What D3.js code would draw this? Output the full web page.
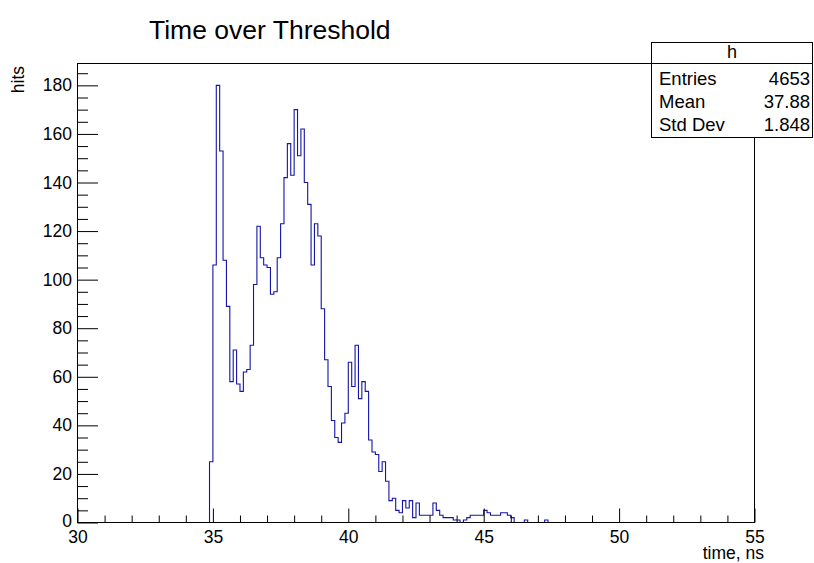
<!DOCTYPE html>
<html>
<head>
<meta charset="utf-8">
<script src="https://cdn.jsdelivr.net/npm/d3@7"></script>
<style>
  body { margin: 0; background: #fff; }
  text { font-family: "Liberation Sans", Arial, sans-serif; }
</style>
</head>
<body>
<div id="chart"></div>
<script>
// histogram "h": 200 bins of 0.125 ns between 30 and 55
const xRange = [30, 55];
const binWidth = 0.125;
const firstBinLow = 34.875; // first filled bin, counts below start here
const counts = [
  25, 106, 180, 153, 108, 89, 58, 71, 57, 54,
  62, 63, 73, 98, 122, 109, 106, 105, 94, 95,
  109, 123, 142, 156, 143, 170, 151, 162, 140, 131,
  106, 123, 118, 88, 67, 56, 42, 35, 33, 41,
  45, 66, 56, 73, 51, 58, 54, 34, 29, 28,
  21, 25, 17, 9, 10, 5, 4, 9, 6, 9,
  2, 8, 3, 3, 3, 3, 8, 5, 3, 2,
  2, 2, 1, 1, 0, 1, 2, 3, 3, 3,
  3, 5, 4, 3, 3, 3, 4, 4, 3, 2,
  0, 0, 0, 1, 0, 0, 0, 0, 0, 1
];
const xMajorTicks = [30, 35, 40, 45, 50, 55];
const yMajorTicks = [0, 20, 40, 60, 80, 100, 120, 140, 160, 180];
const statsRows = [["Entries", "4653"], ["Mean", "37.88"], ["Std Dev", "1.848"]];

const width = 814, height = 563;
const frame = { left: 77.5, right: 754.5, top: 63.5, bottom: 522.5 };
const yMax = 189;

const svg = d3.select("#chart").append("svg")
  .attr("width", width)
  .attr("height", height);

const x = d3.scaleLinear().domain(xRange).range([frame.left, frame.right]);
const y = d3.scaleLinear().domain([0, yMax]).range([frame.bottom, frame.top]);

// full bin list, empty outside the filled part
const nBins = Math.round((xRange[1] - xRange[0]) / binWidth);
const offset = Math.round((firstBinLow - xRange[0]) / binWidth);
const bins = d3.range(nBins).map(i => ({
  low: xRange[0] + i * binWidth,
  value: i >= offset && i - offset < counts.length ? counts[i - offset] : 0
}));
const pts = bins.map(b => [b.low, b.value]);
pts.push([xRange[1], bins[nBins - 1].value]);

const line = d3.line()
  .x(d => x(d[0]))
  .y(d => y(d[1]))
  .curve(d3.curveStepAfter);

svg.append("path")
  .datum(pts)
  .attr("d", line)
  .attr("fill", "none")
  .attr("stroke", "#1414a8")
  .attr("stroke-width", 1.1);

// frame
svg.append("rect")
  .attr("x", frame.left)
  .attr("y", frame.top)
  .attr("width", frame.right - frame.left)
  .attr("height", frame.bottom - frame.top)
  .attr("fill", "none")
  .attr("stroke", "#000");

// x axis, ticks pointing inside
const xMinor = d3.range(31, 55).filter(v => v % 5 !== 0);
svg.append("g")
  .attr("transform", `translate(0,${frame.bottom})`)
  .call(d3.axisBottom(x).tickValues(xMinor).tickSizeInner(-7).tickSizeOuter(0).tickFormat(""))
  .call(g => g.select(".domain").remove());
svg.append("g")
  .attr("class", "x axis")
  .attr("transform", `translate(0,${frame.bottom})`)
  .call(d3.axisBottom(x).tickValues(xMajorTicks).tickSizeInner(-14).tickSizeOuter(0).tickPadding(8).tickFormat(d3.format("d")))
  .call(g => g.select(".domain").remove())
  .selectAll("text")
  .style("font-size", "17.5px")
  .style("font-family", "Liberation Sans, Arial, sans-serif")
  .attr("fill", "#000");

// y axis
const yMinor = d3.range(5, yMax, 5).filter(v => v % 20 !== 0);
svg.append("g")
  .attr("transform", `translate(${frame.left},0)`)
  .call(d3.axisLeft(y).tickValues(yMinor).tickSizeInner(-10.5).tickSizeOuter(0).tickFormat(""))
  .call(g => g.select(".domain").remove());
svg.append("g")
  .attr("class", "y axis")
  .attr("transform", `translate(${frame.left},0)`)
  .call(d3.axisLeft(y).tickValues(yMajorTicks).tickSizeInner(-20.5).tickSizeOuter(0).tickPadding(5.5))
  .call(g => g.select(".domain").remove())
  .selectAll("text")
  .style("font-size", "17.5px")
  .style("font-family", "Liberation Sans, Arial, sans-serif")
  .attr("fill", "#000")
  .attr("dy", d => d === 0 ? "0.22em" : "0.32em");

svg.selectAll(".tick line").attr("stroke", "#000");

// titles
svg.append("text")
  .attr("x", 149)
  .attr("y", 39)
  .style("font-size", "26.5px")
  .text("Time over Threshold");

svg.append("text")
  .attr("x", 764)
  .attr("y", 559)
  .attr("text-anchor", "end")
  .style("font-size", "17.5px")
  .text("time, ns");

svg.append("text")
  .attr("transform", "translate(24,66) rotate(-90)")
  .attr("text-anchor", "end")
  .style("font-size", "17.5px")
  .text("hits");

// stats box
const box = { x0: 651.5, x1: 812.5, y0: 42.5, y1: 137.5, head: 63.5, row: 23 };
svg.append("rect")
  .attr("x", box.x0)
  .attr("y", box.y0)
  .attr("width", box.x1 - box.x0)
  .attr("height", box.y1 - box.y0)
  .attr("fill", "#fff")
  .attr("stroke", "#000");
svg.append("line")
  .attr("x1", box.x0).attr("x2", box.x1)
  .attr("y1", box.head).attr("y2", box.head)
  .attr("stroke", "#000");
svg.append("text")
  .attr("x", (box.x0 + box.x1) / 2)
  .attr("y", 58)
  .attr("text-anchor", "middle")
  .style("font-size", "18px")
  .text("h");

const rows = svg.selectAll(".stat").data(statsRows).enter().append("g").attr("class", "stat");
rows.append("text")
  .attr("x", 659)
  .attr("y", (d, i) => 85 + i * box.row)
  .style("font-size", "18.5px")
  .text(d => d[0]);
rows.append("text")
  .attr("x", 810)
  .attr("y", (d, i) => 85 + i * box.row)
  .attr("text-anchor", "end")
  .style("font-size", "18.5px")
  .text(d => d[1]);
</script>
</body>
</html>
